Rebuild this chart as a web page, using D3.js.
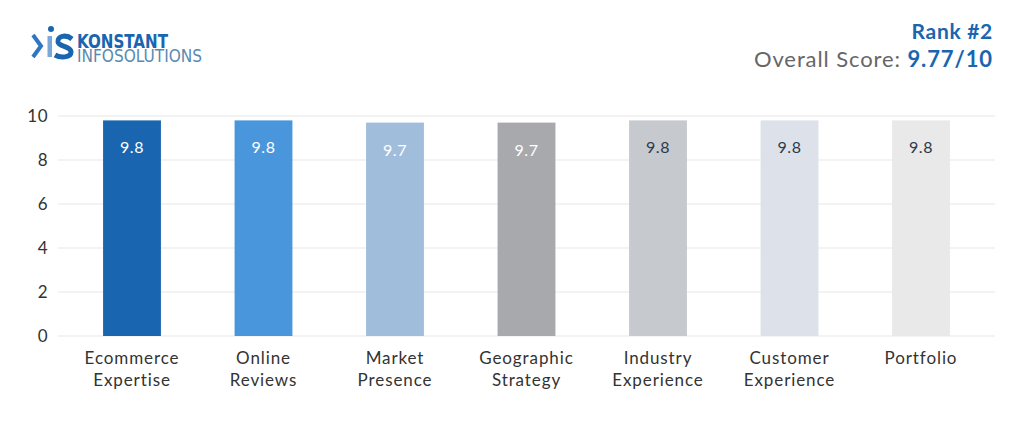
<!DOCTYPE html>
<html><head><meta charset="utf-8">
<script src="https://cdn.jsdelivr.net/npm/d3@7"></script>
<style>body{margin:0;background:#fff}svg{display:block;font-family:Lato,"Open Sans",sans-serif}</style>
</head><body><svg id="c" width="1024" height="438"></svg>
<script>
const categories = [["Ecommerce","Expertise"],["Online","Reviews"],["Market","Presence"],["Geographic","Strategy"],["Industry","Experience"],["Customer","Experience"],["Portfolio"]];
const values = [9.8, 9.8, 9.7, 9.7, 9.8, 9.8, 9.8];
const colors = ["#1a65b0","#4a96dc","#a0bedc","#a8a9ad","#c6c9ce","#dde2ea","#e9e9e9"];
const labelColors = ["#fff","#fff","#fff","#fff","#2d3a4a","#2d3a4a","#2d3a4a"];
const yTicks = [0,2,4,6,8,10];

const svg = d3.select("#c");
const x = d3.scaleBand().domain(d3.range(categories.length)).range([66.25, 986.75]).paddingInner(0.56).paddingOuter(0.28);
const y = d3.scaleLinear().domain([0,10]).range([336,116]);

// grid
svg.append("g").selectAll("line").data(yTicks).join("line")
  .attr("x1",58).attr("x2",995).attr("y1",d=>y(d)).attr("y2",d=>y(d))
  .attr("stroke","#efefef").attr("stroke-width",1.5);

const ya = svg.append("g").attr("transform","translate(58,0)").call(d3.axisLeft(y).tickValues(yTicks).tickSize(0).tickPadding(10));
ya.select(".domain").remove();
ya.selectAll("text").attr("font-size",17).attr("fill","#333").attr("font-family","Lato,sans-serif").attr("letter-spacing",0.5);

svg.append("g").selectAll("rect").data(values).join("rect")
  .attr("x",(d,i)=>x(i)).attr("width",x.bandwidth())
  .attr("y",d=>y(d)).attr("height",d=>y(0)-y(d)).attr("fill",(d,i)=>colors[i]);

svg.append("g").selectAll("text").data(values).join("text")
  .attr("x",(d,i)=>x(i)+x.bandwidth()/2).attr("y",d=>y(d)+33)
  .attr("text-anchor","middle").attr("font-size",16).attr("letter-spacing",0.6).attr("fill",(d,i)=>labelColors[i])
  .text(d=>d.toFixed(1));

const cl = svg.append("g").selectAll("text").data(categories).join("text")
  .attr("x",(d,i)=>x(i)+x.bandwidth()/2).attr("y",364)
  .attr("text-anchor","middle").attr("font-size",17).attr("letter-spacing",0.9).attr("fill","#333");
cl.selectAll("tspan").data(d=>d).join("tspan")
  .attr("x",function(){return this.parentNode.getAttribute("x");})
  .attr("dy",(d,i)=>i?22:0).text(d=>d);

// header right
svg.append("text").attr("x",993).attr("y",39).attr("text-anchor","end")
  .attr("font-size",21).attr("font-weight",700).attr("letter-spacing",0.7).attr("fill","#1a65b0").text("Rank #2");
const os = svg.append("text").attr("x",993).attr("y",67).attr("text-anchor","end").attr("font-size",22).attr("letter-spacing",0.9);
os.append("tspan").attr("fill","#666").text("Overall Score: ");
os.append("tspan").attr("fill","#1a65b0").attr("font-weight",700).text("9.77/10");

// logo
const lg = svg.append("g");
lg.append("path").attr("d","M33,35 L41,46 L33,57").attr("fill","none").attr("stroke","#2f76c0").attr("stroke-width",4);
lg.append("circle").attr("cx",51).attr("cy",29).attr("r",3).attr("fill","#1a65b0");
lg.append("rect").attr("x",47.5).attr("y",36).attr("width",4.5).attr("height",21).attr("fill","#7aa8d8");
lg.append("path").attr("d","M72,39 C66,34 57,36 58,42 C59,47 71,46 71,52 C71,58 60,58 55,55").attr("fill","none").attr("stroke","#1a65b0").attr("stroke-width",5);
lg.append("text").attr("x",77).attr("y",48).attr("font-size",19).attr("font-weight",700).attr("fill","#1a65b0")
  .attr("font-family","'Liberation Sans Narrow','DejaVu Sans Condensed',sans-serif").attr("textLength",91).attr("lengthAdjust","spacingAndGlyphs").text("KONSTANT");
lg.append("text").attr("x",77).attr("y",62).attr("font-size",18).attr("fill","#5a8ab0")
  .attr("font-family","'Liberation Sans Narrow','DejaVu Sans Condensed',sans-serif").attr("textLength",125).attr("lengthAdjust","spacingAndGlyphs").text("INFOSOLUTIONS");
</script></body></html>
